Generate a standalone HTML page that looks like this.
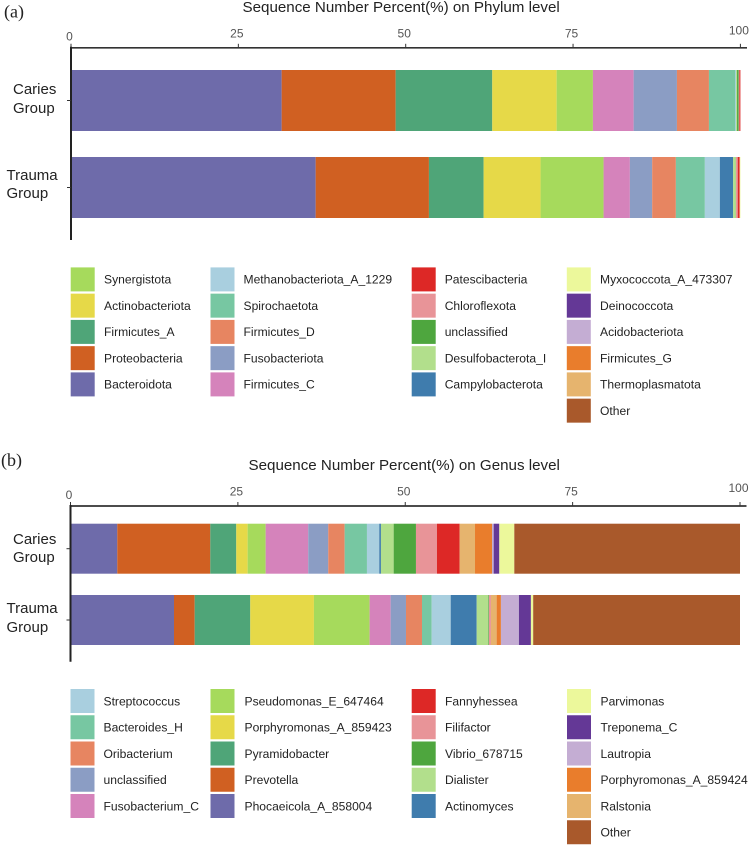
<!DOCTYPE html>
<html lang="en">
<head>
<meta charset="utf-8">
<title>Sequence Number Percent on Phylum and Genus level</title>
<style>
html,body{margin:0;padding:0;background:#fff;width:750px;height:846px;overflow:hidden}
svg{display:block;filter:blur(0.35px)}
text{font-family:"Liberation Sans",sans-serif;fill:#222}
</style>
</head>
<body>
<svg id="figure" xmlns="http://www.w3.org/2000/svg" width="750" height="846" viewBox="0 0 750 846"></svg>
<script>
const categories = ["Caries Group", "Trauma Group"];
const tickLabels = [0, 25, 50, 75, 100];
const palette = ["#6E6BAA","#D06022","#4FA578","#E6D948","#A6DA5C","#D583BB","#8B9DC4","#E78561","#77C7A2","#A9CFDF","#3F7CAD","#B2DF8C","#4EA63E","#E89498","#DD2826","#E6B46E","#E97D2C","#C4ADD3","#643896","#ECF89B","#A9592B"];
const phylumNames = ["Bacteroidota","Proteobacteria","Firmicutes_A","Actinobacteriota","Synergistota","Firmicutes_C","Fusobacteriota","Firmicutes_D","Spirochaetota","Methanobacteriota_A_1229","Campylobacterota","Desulfobacterota_I","unclassified","Chloroflexota","Patescibacteria","Thermoplasmatota","Firmicutes_G","Acidobacteriota","Deinococcota","Myxococcota_A_473307","Other"];
const phylumCaries = [31.47,17.03,14.43,9.62,5.42,6.08,6.47,4.78,3.93,0.10,0.02,0.15,0.25,0.10,0.15,0,0,0,0,0,0];
const phylumTrauma = [36.55,16.92,8.17,8.51,9.41,3.93,3.33,3.54,4.33,2.24,1.99,0.40,0.03,0.25,0.30,0,0,0,0,0.10,0];
const genusNames = ["Phocaeicola_A_858004","Prevotella","Pyramidobacter","Porphyromonas_A_859423","Pseudomonas_E_647464","Fusobacterium_C","unclassified","Oribacterium","Bacteroides_H","Streptococcus","Actinomyces","Dialister","Vibrio_678715","Filifactor","Fannyhessea","Ralstonia","Porphyromonas_A_859424","Lautropia","Treponema_C","Parvimonas","Other"];
const genusCaries = [6.99,13.89,3.88,1.70,2.69,6.36,2.99,2.45,3.33,1.84,0.25,1.90,3.33,3.14,3.39,2.29,2.54,0.25,0.84,2.24,33.71];
const genusTrauma = [15.46,3.09,8.30,9.51,8.32,3.14,2.29,2.39,1.45,2.84,3.88,1.73,0.10,0.30,0,0.85,0.64,2.69,1.79,0.34,30.89];
const phylumLegendColumns = [[4,3,2,1,0],[9,8,7,6,5],[14,13,12,11,10],[19,18,17,16,15,20]];
const genusLegendColumns = [[9,8,7,6,5],[4,3,2,1,0],[14,13,12,11,10],[19,18,17,16,15,20]];

const NS = "http://www.w3.org/2000/svg";
const svg = document.getElementById("figure");
function make(tag, attrs, parent, txt) {
  const el = document.createElementNS(NS, tag);
  for (const k in attrs) el.setAttribute(k, attrs[k]);
  if (txt !== undefined) el.textContent = txt;
  (parent || svg).appendChild(el);
  return el;
}
function slug(s) { return s.toLowerCase().replace(/[^a-z0-9]+/g, "-"); }

function drawPanel(p) {
  const group = make("g", {});
  
  
  const xScale = v => p.x0 + v * (p.x100 - p.x0) / 100;

  const letter = make("text", {x: p.letterX, y: p.letterY, "font-size": 18, style: 'font-family:"Liberation Serif",serif'}, group, "(" + p.id + ")");
  
  

  const title = make("text", {x: p.titleX, y: p.titleY, "font-size": 15.15}, group, p.title);
  
  

  // bars
  p.series.forEach((vals, r) => {
    const row = make("g", {}, group);
    
    
    let cum = 0;
    vals.forEach((v, i) => {
      const rect = make("rect", {x: xScale(cum), y: p.barY[r], width: Math.max(0, xScale(cum + v) - xScale(cum)), height: p.barH, fill: palette[i]}, row);
      
      
      cum += v;
    });
  });

  // x axis
  const xAxis = make("line", {x1: p.x0 - 1, x2: p.axisEnd, y1: p.axisY, y2: p.axisY, stroke: "#333", "stroke-width": 1.7}, group);
  
  
  tickLabels.forEach((t, i) => {
    const tick = make("line", {x1: xScale(t), x2: xScale(t), y1: p.axisY - 4, y2: p.axisY, stroke: "#333", "stroke-width": 1}, group);
    
    
    const lab = make("text", {x: xScale(t) - 1.5, y: p.axisY - 10.5 + p.tickShift[i], "text-anchor": "middle", "font-size": 12, style: "fill:#555"}, group, String(t));
    
    
  });

  // y axis
  const yAxis = make("line", {x1: p.x0, x2: p.x0, y1: p.axisY - 1, y2: p.axisBottom, stroke: "#222", "stroke-width": 2}, group);
  
  
  categories.forEach((c, r) => {
    const tick = make("line", {x1: p.x0 - 4, x2: p.x0, y1: p.barY[r] + p.barH / 2, y2: p.barY[r] + p.barH / 2, stroke: "#333", "stroke-width": 1}, group);
    
    
    const parts = c.split(" ");
    parts.forEach((w, k) => {
      const lab = make("text", {x: p.catX[r], y: p.catY[r][k], "font-size": 15}, group, w);
      
      
    });
  });

  // legend
  const legend = make("g", {}, group);
  
  
  p.legendColumns.forEach((col, c) => {
    col.forEach((idx, r) => {
      const y = p.legY + r * 26.25;
      const entry = make("g", {}, legend);
      
      
      const sw = make("rect", {x: p.legX[c], y: y, width: 24, height: 24, fill: palette[idx]}, entry);
      
      
      const lab = make("text", {x: p.legTextX[c], y: y + 16.3, "font-size": 12.1}, entry, p.names[idx]);
      
      
    });
  });
}

drawPanel({
  id: "a", title: "Sequence Number Percent(%) on Phylum level", names: phylumNames,
  series: [phylumCaries, phylumTrauma], legendColumns: phylumLegendColumns,
  x0: 71, x100: 740.4, axisY: 47.8, axisEnd: 747, axisBottom: 240,
  barY: [70, 157], barH: 61,
  tickShift: [3, 0, 0, 0, -3],
  letterX: 4, letterY: 17.5, titleX: 242.5, titleY: 12,
  catX: [13, 6.5], catY: [[94, 113], [180, 198]],
  legY: 267.4, legX: [70.7, 210.5, 411.7, 566.8], legTextX: [104, 243.5, 444.7, 600]
});
drawPanel({
  id: "b", title: "Sequence Number Percent(%) on Genus level", names: genusNames,
  series: [genusCaries, genusTrauma], legendColumns: genusLegendColumns,
  x0: 70.5, x100: 740, axisY: 506, axisEnd: 746.5, axisBottom: 661.7,
  barY: [523.7, 595], barH: 50,
  tickShift: [3.5, 0, 0, 0, -3.5],
  letterX: 1, letterY: 466, titleX: 248.5, titleY: 470,
  catX: [13, 6.5], catY: [[544, 562], [613, 632]],
  legY: 689, legX: [70.5, 210.5, 411.7, 567], legTextX: [103.5, 244.5, 445, 600.5]
});
</script>
</body>
</html>
